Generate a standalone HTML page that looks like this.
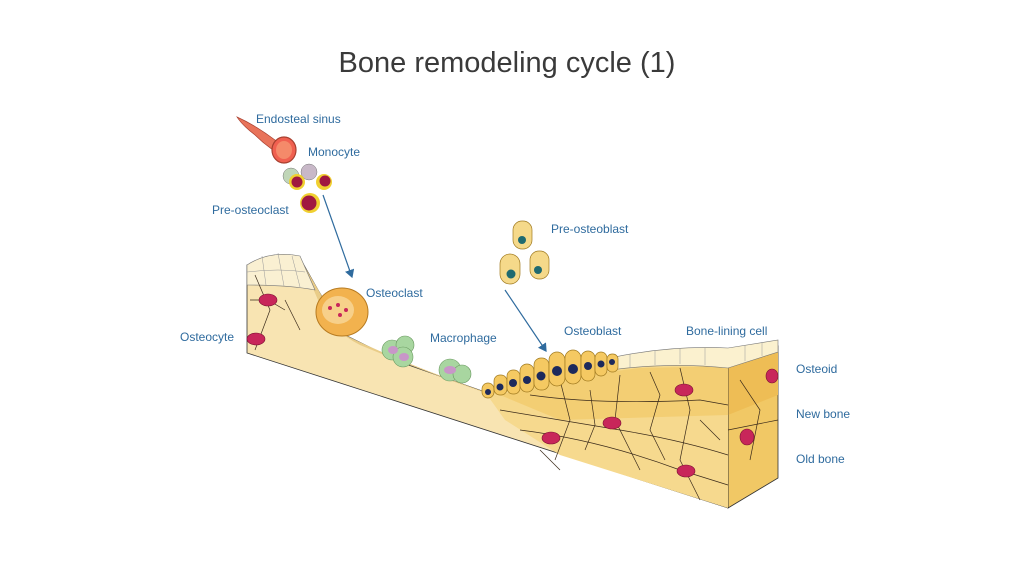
<!DOCTYPE html>
<html><head><meta charset="utf-8"><style>
html,body{margin:0;padding:0;background:#fff;}
svg{display:block;}
.l{font-family:"Liberation Sans",sans-serif;font-size:12px;fill:#2f6b9e;}
</style></head><body>
<svg width="1024" height="576" viewBox="0 0 1024 576" xmlns="http://www.w3.org/2000/svg">
<text x="507" y="72" text-anchor="middle" style="font-family:'Liberation Sans',sans-serif;font-size:29px;fill:#3a3a3a">Bone remodeling cycle (1)</text>

<!-- right side face -->
<polygon points="728,366 778,346 778,478 728,508" fill="#f1c865" stroke="#333" stroke-width="0.8"/>
<polygon points="728,366 778,346 778,395 728,415" fill="#eebd55"/>
<!-- front face -->
<polygon points="247,265 300,258 318,290 345,335 400,362 485,392 520,375 600,362 660,352 728,350 728,508 247,353" fill="#f8e4b2" stroke="#333" stroke-width="0.8"/>
<!-- yellow bone region -->
<polygon points="485,392 520,375 600,362 660,352 728,350 728,508 560,455 505,420" fill="#f6d98e"/>
<polygon points="500,395 560,378 640,368 728,366 728,415 560,420" fill="#f3ce73"/>
<!-- trough surface -->
<path d="M300,258 Q318,290 345,335 Q400,362 485,392 L500,398 Q420,370 360,345 Q330,330 318,300 Z" fill="#e9cc88"/>
<!-- top lining cells left -->
<path d="M247,265 Q270,250 300,256 L315,290 Q290,285 247,285 Z" fill="#faf0d2" stroke="#777" stroke-width="0.6"/>
<g stroke="#999" stroke-width="0.5" fill="none"><path d="M262,256 L266,285"/><path d="M278,253 L284,286"/><path d="M292,256 L300,287"/><path d="M247,272 Q280,268 305,272"/></g>
<!-- bone lining cells right -->
<path d="M610,358 Q670,345 728,348 L778,340 L778,352 L728,368 Q670,362 610,370 Z" fill="#fbf1cf" stroke="#777" stroke-width="0.6"/>
<g stroke="#999" stroke-width="0.5"><line x1="630" y1="354" x2="630" y2="368"/><line x1="655" y1="350" x2="655" y2="365"/><line x1="680" y1="348" x2="680" y2="364"/><line x1="705" y1="348" x2="705" y2="365"/><line x1="745" y1="345" x2="745" y2="361"/><line x1="762" y1="342" x2="762" y2="356"/></g>
<!-- network lines -->
<g stroke="#3a2a1a" stroke-width="0.7" fill="none">
<path d="M500,410 Q560,420 620,430 Q680,440 728,455"/>
<path d="M520,430 Q600,440 680,470 L728,485"/>
<path d="M560,380 L570,420 L555,460"/>
<path d="M620,375 L615,420 L640,470"/>
<path d="M680,368 L690,410 L680,460 L700,500"/>
<path d="M530,395 Q600,405 700,400 L728,405"/>
<path d="M650,372 L660,395 L650,430 L665,460"/>
<path d="M590,390 L595,425 L585,450"/>
<path d="M700,420 L720,440"/>
<path d="M540,450 L560,470"/>
<path d="M255,275 L270,310 L255,350"/>
<path d="M285,300 L300,330"/>
<path d="M250,300 L268,300 L285,310"/>
<path d="M740,380 L760,410 L750,460"/>
<path d="M728,430 L778,420"/>
</g>
<!-- osteocytes -->
<g fill="#c8265a" stroke="#7a1030" stroke-width="0.6">
<ellipse cx="268" cy="300" rx="9" ry="6"/>
<ellipse cx="256" cy="339" rx="9" ry="6"/>
<ellipse cx="684" cy="390" rx="9" ry="6"/>
<ellipse cx="612" cy="423" rx="9" ry="6"/>
<ellipse cx="551" cy="438" rx="9" ry="6"/>
<ellipse cx="686" cy="471" rx="9" ry="6"/>
<ellipse cx="747" cy="437" rx="7" ry="8"/>
<ellipse cx="772" cy="376" rx="6" ry="7"/>
</g>
<!-- osteoclast -->
<ellipse cx="342" cy="312" rx="26" ry="24" fill="#f2b24e" stroke="#b67a20" stroke-width="1"/>
<ellipse cx="338" cy="310" rx="16" ry="14" fill="#f7d08a"/>
<g fill="#c8265a"><circle cx="330" cy="308" r="2"/><circle cx="338" cy="305" r="2"/><circle cx="340" cy="315" r="2"/><circle cx="346" cy="310" r="2"/></g>
<!-- macrophages -->
<g fill="#a8d6a0" stroke="#6a9a60" stroke-width="0.6">
<circle cx="392" cy="350" r="10"/><circle cx="405" cy="345" r="9"/><circle cx="403" cy="357" r="10"/>
<circle cx="450" cy="370" r="11"/><circle cx="462" cy="374" r="9"/>
</g>
<g fill="#c896c8"><ellipse cx="393" cy="350" rx="5" ry="4"/><ellipse cx="404" cy="357" rx="5" ry="4"/><ellipse cx="450" cy="370" rx="6" ry="4"/></g>
<!-- osteoblasts -->
<g fill="#f5c962" stroke="#a07a20" stroke-width="0.7">
<rect x="482" y="383" width="12" height="15" rx="6"/>
<rect x="494" y="375" width="13" height="20" rx="6"/>
<rect x="507" y="370" width="13" height="24" rx="6"/>
<rect x="520" y="364" width="14" height="28" rx="7"/>
<rect x="534" y="358" width="15" height="32" rx="7"/>
<rect x="549" y="352" width="16" height="34" rx="8"/>
<rect x="565" y="350" width="16" height="34" rx="8"/>
<rect x="581" y="351" width="14" height="30" rx="7"/>
<rect x="595" y="352" width="12" height="24" rx="6"/>
<rect x="607" y="354" width="11" height="18" rx="5"/>
</g>
<g fill="#1d2a5c"><circle cx="488" cy="392" r="3"/><circle cx="500" cy="387" r="3.5"/><circle cx="513" cy="383" r="4"/><circle cx="527" cy="380" r="4"/><circle cx="541" cy="376" r="4.5"/><circle cx="557" cy="371" r="5"/><circle cx="573" cy="369" r="5"/><circle cx="588" cy="366" r="4"/><circle cx="601" cy="364" r="3.5"/><circle cx="612" cy="362" r="3"/></g>
<!-- pre-osteoblasts -->
<g fill="#f5d98a" stroke="#a07a20" stroke-width="0.7">
<rect x="513" y="221" width="19" height="28" rx="9"/>
<rect x="500" y="254" width="20" height="30" rx="10"/>
<rect x="530" y="251" width="19" height="28" rx="9"/>
</g>
<g fill="#1f6a70"><circle cx="522" cy="240" r="4"/><circle cx="511" cy="274" r="4.5"/><circle cx="538" cy="270" r="4"/></g>
<!-- endosteal sinus -->
<path d="M237,117 Q255,125 275,140 L290,160 Q270,150 255,135 Q242,125 237,117 Z" fill="#e8735a" stroke="#a84030" stroke-width="0.7"/>
<ellipse cx="284" cy="150" rx="12" ry="13" fill="#f06050" stroke="#a84030" stroke-width="1.2"/>
<ellipse cx="284" cy="150" rx="8" ry="9" fill="#f58a6a"/>
<!-- monocytes / pre-osteoclasts -->
<circle cx="291" cy="176" r="8" fill="#c0d6b8" stroke="#777" stroke-width="0.5"/>
<circle cx="309" cy="172" r="8" fill="#c8b8c8" stroke="#777" stroke-width="0.5"/>
<circle cx="297" cy="182" r="8" fill="#f0d030"/><circle cx="297" cy="182" r="5.5" fill="#a01840"/>
<circle cx="324" cy="182" r="8" fill="#f0d030"/><circle cx="325" cy="181" r="5.5" fill="#a01840"/>
<circle cx="310" cy="203" r="10" fill="#f0d030"/><circle cx="309" cy="203" r="7.5" fill="#a01840"/>
<!-- arrows -->
<defs><marker id="a" markerWidth="8" markerHeight="8" refX="6" refY="4" orient="auto"><path d="M0,0 L7,4 L0,8 Z" fill="#2f6b9e"/></marker></defs>
<line x1="323" y1="195" x2="352" y2="277" stroke="#2f6b9e" stroke-width="1.2" marker-end="url(#a)"/>
<line x1="505" y1="290" x2="546" y2="351" stroke="#2f6b9e" stroke-width="1.2" marker-end="url(#a)"/>
<!-- labels -->
<text class="l" x="256" y="123">Endosteal sinus</text>
<text class="l" x="308" y="156">Monocyte</text>
<text class="l" x="212" y="214">Pre-osteoclast</text>
<text class="l" x="551" y="233">Pre-osteoblast</text>
<text class="l" x="366" y="297">Osteoclast</text>
<text class="l" x="180" y="341">Osteocyte</text>
<text class="l" x="430" y="342">Macrophage</text>
<text class="l" x="564" y="335">Osteoblast</text>
<text class="l" x="686" y="335">Bone-lining cell</text>
<text class="l" x="796" y="373">Osteoid</text>
<text class="l" x="796" y="418">New bone</text>
<text class="l" x="796" y="463">Old bone</text>
</svg>
</body></html>
